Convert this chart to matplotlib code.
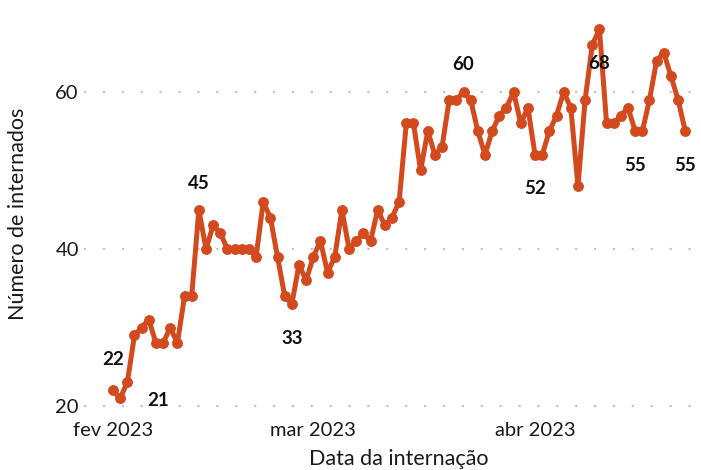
import numpy as np
import pandas as pd
import matplotlib
matplotlib.use("Agg")
import matplotlib.pyplot as plt

# daily counts, 1 Feb 2023 .. 22 Apr 2023
start_date = "2023-02-01"
internados = [
    22, 21, 23, 29, 30, 31, 28, 28, 30, 28, 34, 34, 45, 40, 43, 42, 40, 40, 40, 40,
    39, 46, 44, 39, 34, 33, 38, 36,                                   # fev
    39, 41, 37, 39, 45, 40, 41, 42, 41, 45, 43, 44, 46, 56, 56, 50, 55, 52, 53, 59,
    59, 60, 59, 55, 52, 55, 57, 58, 60, 56, 58,                       # mar
    52, 52, 55, 57, 60, 58, 48, 59, 66, 68, 56, 56, 57, 58, 55, 55, 59, 64, 65, 62,
    59, 55,                                                           # abr
]
dates = pd.date_range(start_date, periods=len(internados), freq="D")

# labelled points (date) and where the label goes, in points from the point
label_dates = ["2023-02-01", "2023-02-02", "2023-02-13", "2023-02-26", "2023-03-22",
               "2023-04-01", "2023-04-10", "2023-04-15", "2023-04-22"]
label_offsets = [(0, 22), (27, -2), (0, 19), (0, -25), (0, 20),
                 (0, -24), (0, -25), (0, -25), (0, -25)]

tick_dates = ["2023-02-01", "2023-03-01", "2023-04-01"]
tick_labels = ["fev 2023", "mar 2023", "abr 2023"]

color = "#D34A1F"
txt = "#1A1A1A"
plt.rcParams["font.family"] = ["Lato", "DejaVu Sans"]

fig = plt.figure(figsize=(7.01, 4.70), dpi=100)
ax = fig.add_axes([0.1204, 0.1136, 0.8796, 0.8636])

s = pd.Series(internados, index=dates)
ax.plot(s.index, s.values, color=color, lw=3.6, marker="o", ms=6.8,
        solid_capstyle="round", solid_joinstyle="round", zorder=3)

for d, off in zip(label_dates, label_offsets):
    d = pd.Timestamp(d)
    ax.annotate(str(s[d]), xy=(d, s[d]), xytext=off, textcoords="offset points",
                ha="center", va="center", fontsize=13.5, fontweight="bold",
                color="#111111", zorder=4)

t0 = pd.Timestamp(start_date)
ax.set_xlim(t0 - pd.Timedelta(days=4), t0 + pd.Timedelta(days=82.2))
ax.set_ylim(18.65, 70.35)
ax.set_yticks([20, 40, 60])
ax.set_xticks(pd.to_datetime(tick_dates))
ax.set_xticklabels(tick_labels)

ax.grid(axis="y", color="#C4C4C4", linestyle=(0, (1, 7.5)), linewidth=1.6)
ax.grid(axis="x", visible=False)
for sp in ax.spines.values():
    sp.set_visible(False)
ax.tick_params(length=0, labelsize=14.5, colors=txt, pad=4)

ax.set_xlabel("Data da internação", fontsize=15.5, color=txt, va="center")
ax.set_ylabel("Número de internados", fontsize=15.5, color=txt, va="center")
ax.xaxis.set_label_coords(0.510, -0.1045)
ax.yaxis.set_label_coords(-0.1077, 0.5)

fig.savefig("out.png", dpi=100)
